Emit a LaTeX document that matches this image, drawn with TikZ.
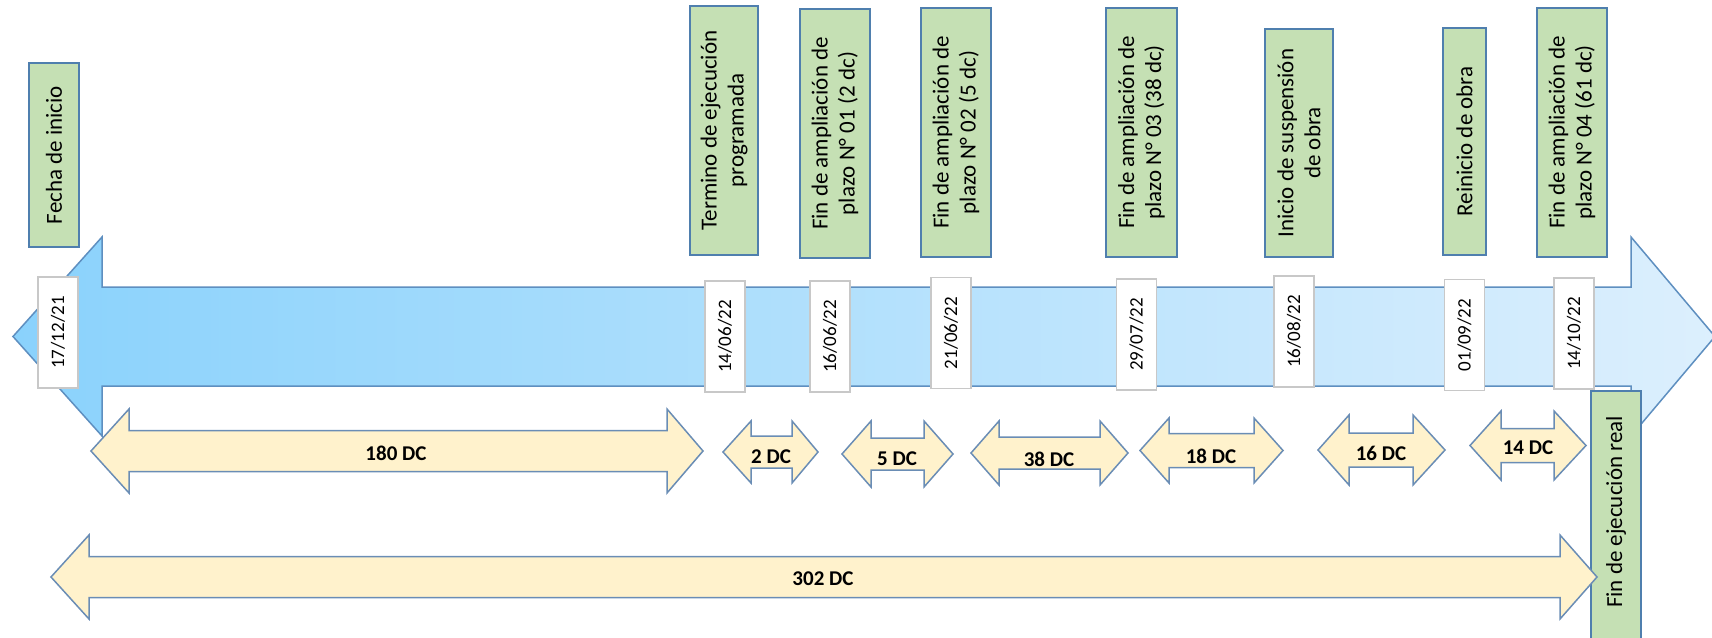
\documentclass[tikz,border=0pt]{standalone}
\usepackage{fontspec}
\setmainfont{Carlito}

\definecolor{azulfuerte}{HTML}{8AD2FC}
\definecolor{azulclaro}{HTML}{DCEFFD}
\definecolor{bordeazul}{HTML}{5E8FC0}
\definecolor{verdehito}{HTML}{C5E0B4}
\definecolor{bordeverde}{HTML}{4F7FAE}
\definecolor{amarillo}{HTML}{FFF2CC}
\definecolor{bordeflecha}{HTML}{6A8DB5}
\definecolor{grisfecha}{HTML}{C8C8C8}

\tikzset{
  hito/.style={draw=bordeverde, fill=verdehito, line width=1.5pt, rotate=90,
    align=center, inner sep=0pt, font=\fontsize{23}{27}\selectfont},
  fecha/.style={draw=grisfecha, fill=white, line width=1.5pt, rotate=90,
    inner sep=0pt, minimum width=111pt, minimum height=40pt,
    font=\fontsize{19}{23}\selectfont},
  flecha/.style={draw=bordeflecha, fill=amarillo, line width=1.5pt},
  dias/.style={inner sep=0pt, font=\bfseries\fontsize{21}{25}\selectfont},
}

\begin{document}
\begin{tikzpicture}[x=1pt, y=-1pt]
    \useasboundingbox (0,0) rectangle (1712,637);

    % Timeline arrow
    \path[draw=bordeazul, line width=1.5pt, left color=azulfuerte, right color=azulclaro]
        (13,336.5) -- (102,237) -- (102,287) -- (1631,287) -- (1631,237) -- (1715,336.5)
        -- (1631,436) -- (1631,386) -- (102,386) -- (102,436) -- cycle;

    % Dates on the timeline
    \node[fecha] (fechaini) at (58,332.5) {17/12/21};
    \node[fecha] (fechaprog) at (725,336.5) {14/06/22};
    \node[fecha] (fechaamp1) at (830,336.5) {16/06/22};
    \node[fecha] (fechaamp2) at (951,333) {21/06/22};
    \node[fecha] (fechaamp3) at (1136.5,334.5) {29/07/22};
    \node[fecha] (fechasusp) at (1294,331.5) {16/08/22};
    \node[fecha] (fechareini) at (1464.5,335) {01/09/22};
    \node[fecha] (fechaamp4) at (1574,333.5) {14/10/22};

    % Milestones
    \node[hito, minimum width=184pt, minimum height=50pt] (inicio) at (54,155) {Fecha de inicio};
    \node[hito, minimum width=249pt, minimum height=68pt] (termino) at (724,130.5) {Termino de ejecución\\programada};
    \node[hito, minimum width=249pt, minimum height=70pt] (amp1) at (835,133.5) {Fin de ampliación de\\plazo N° 01 (2 dc)};
    \node[hito, minimum width=249pt, minimum height=70pt] (amp2) at (956,132.5) {Fin de ampliación de\\plazo N° 02 (5 dc)};
    \node[hito, minimum width=249pt, minimum height=71pt] (amp3) at (1141.5,132.5) {Fin de ampliación de\\plazo N° 03 (38 dc)};
    \node[hito, minimum width=228pt, minimum height=68pt] (susp) at (1299,143) {Inicio de suspensión\\de obra};
    \node[hito, minimum width=227pt, minimum height=43pt] (reinicio) at (1464.5,141.5) {Reinicio de obra};
    \node[hito, minimum width=249pt, minimum height=70pt] (amp4) at (1572,132.5) {Fin de ampliación de\\plazo N° 04 (61 dc)};
    \node[hito, minimum width=259pt, minimum height=50pt] (finreal) at (1616,520.5) {\hspace*{17pt}Fin de ejecución real};

    % Day spans
    \draw[flecha] (91,451) -- (129,409) -- (129,430.5) -- (667,430.5) -- (667,409) -- (703,451)
        -- (667,493) -- (667,471.5) -- (129,471.5) -- (129,493) -- cycle;
    \node[dias] (d180) at (396,453) {180 DC};

    \draw[flecha] (723,452) -- (751,421) -- (751,436) -- (792,436) -- (792,421) -- (818,452)
        -- (792,483) -- (792,468) -- (751,468) -- (751,483) -- cycle;
    \node[dias] (d2) at (771,457) {2 DC};

    \draw[flecha] (842,454) -- (871,421) -- (871,438) -- (924,438) -- (924,421) -- (953,454)
        -- (924,487) -- (924,470) -- (871,470) -- (871,487) -- cycle;
    \node[dias] (d5) at (897,459) {5 DC};

    \draw[flecha] (971,453) -- (999,421) -- (999,437) -- (1100,437) -- (1100,421) -- (1128,453)
        -- (1100,485) -- (1100,469) -- (999,469) -- (999,485) -- cycle;
    \node[dias] (d38) at (1049,459) {38 DC};

    \draw[flecha] (1140,450.5) -- (1169,418) -- (1169,433.5) -- (1254,433.5) -- (1254,418) -- (1283,450.5)
        -- (1254,483) -- (1254,467.5) -- (1169,467.5) -- (1169,483) -- cycle;
    \node[dias] (d18) at (1211,456) {18 DC};

    \draw[flecha] (1318,450) -- (1349,415) -- (1349,433) -- (1413,433) -- (1413,415) -- (1445,450)
        -- (1413,485) -- (1413,467) -- (1349,467) -- (1349,485) -- cycle;
    \node[dias] (d16) at (1381,453) {16 DC};

    \draw[flecha] (1470,445.5) -- (1501,411) -- (1501,428.5) -- (1554,428.5) -- (1554,411) -- (1586,445.5)
        -- (1554,480) -- (1554,462.5) -- (1501,462.5) -- (1501,480) -- cycle;
    \node[dias] (d14) at (1528,448) {14 DC};

    \draw[flecha] (51,577) -- (89,535) -- (89,556.5) -- (1560,556.5) -- (1560,535) -- (1597,577)
        -- (1560,619) -- (1560,597.5) -- (89,597.5) -- (89,619) -- cycle;
    \node[dias] (d302) at (823,579) {302 DC};
\end{tikzpicture}
\end{document}
